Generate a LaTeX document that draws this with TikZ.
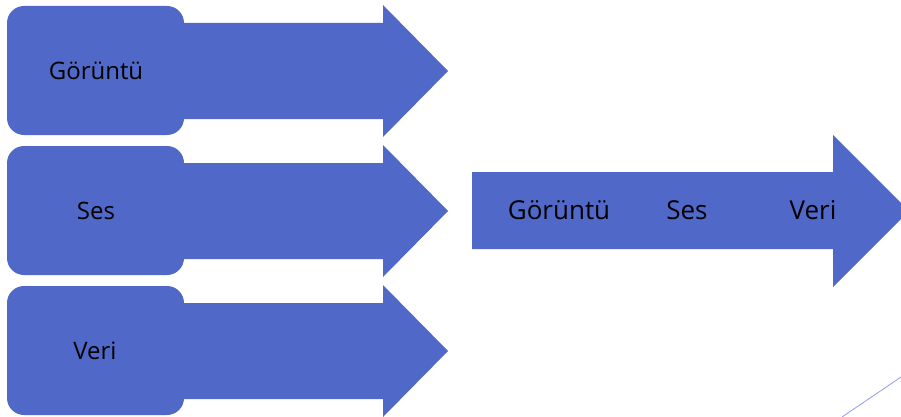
\documentclass[tikz,border=0pt]{standalone}
\usepackage{fontspec}
\setmainfont{Open Sans}
\definecolor{shapeblue}{RGB}{80,104,199}
\definecolor{lineblue}{RGB}{140,158,230}
\tikzset{
  blk/.style={fill=shapeblue, draw=none},
  lbl/.style={font=\fontsize{24}{27}\selectfont, text=black, inner sep=0pt, anchor=center},
  biglbl/.style={font=\fontsize{26}{29}\selectfont, text=black, inner sep=0pt, anchor=center}
}
\newcommand{\inputshape}[1]{%
  \fill[shapeblue, rounded corners=17pt] (7,#1+6) rectangle (184,#1+135);
  \fill[shapeblue] (170,#1+23) -- (383,#1+23) -- (383,#1+5) -- (448,#1+71) -- (383,#1+137) -- (383,#1+119) -- (170,#1+119) -- cycle;
}
\begin{document}
\begin{tikzpicture}[x=1pt,y=-1pt]
\useasboundingbox (0,0) rectangle (901,417);
\inputshape{0}
\inputshape{140}
\inputshape{280}
\fill[shapeblue] (472,172) -- (833,172) -- (833,135) -- (909,211) -- (833,287) -- (833,249) -- (472,249) -- cycle;
\node[lbl] (g1) at (96,71) {Görüntü};
\node[lbl] (s1) at (96,211) {Ses};
\node[lbl] (v1) at (95,351) {Veri};
\node[biglbl] (g2) at (559,210) {Görüntü};
\node[biglbl] (s2) at (687,210) {Ses};
\node[biglbl] (v2) at (813,210) {Veri};
\coordinate (la) at (842,417);
\coordinate (lb) at (901,377);
\draw[lineblue, line width=0.8pt] (la) -- (lb);
\end{tikzpicture}
\end{document}
